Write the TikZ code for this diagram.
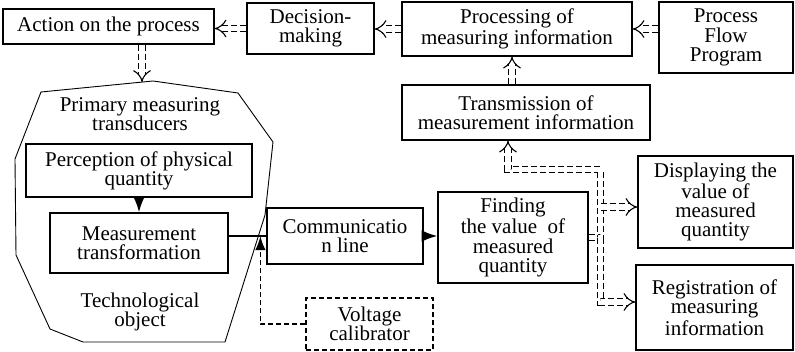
\documentclass[tikz,border=0pt]{standalone}
\usepackage{fontspec}
\setmainfont{Liberation Serif}
\usetikzlibrary{positioning,arrows.meta,calc}

\begin{document}
\begin{tikzpicture}[
    x=0.5pt,y=-0.5pt,
    box/.style={draw,line width=0.6pt,align=center,inner sep=1pt,font=\rmfamily\fontsize{10.5}{9.6}\selectfont},
    lbl/.style={align=center,inner sep=0pt,font=\rmfamily\fontsize{10.5}{9.6}\selectfont},
    arr/.style={-Latex,line width=1.1pt},
    dbl/.style={double,double distance=2.6pt,line width=0.55pt,dash pattern=on 3pt off 1.5pt,-{Implies[scale=1.2]}},
  ]
    \useasboundingbox (0,0) rectangle (795,352);
    % technological object
    \draw[line width=0.45pt] (41,92) -- (153,81) -- (238,93) -- (273,142) -- (265,215) -- (225,342)
      -- (83,342) -- (50,329) -- (16,255) -- (15,159) -- cycle;
    \coordinate (objtop) at (142,82);
    \node[lbl] (primary) at (140,114) {Primary measuring\\transducers};
    \node[lbl] (techobj) at (140,312) {Technological\\object};

    \node[box,minimum width=105.5pt,minimum height=17.5pt] (act) at (108.5,26.5) {Action on the process};
    \node[box,minimum width=63.5pt,minimum height=25.5pt] (decide) at (310.5,28.5) {Decision-\\making};
    \node[box,minimum width=115pt,minimum height=27pt] (procinfo) at (517,29) {Processing of\\measuring information};
    \node[box,minimum width=67pt,minimum height=35.5pt] (flowprog) at (726,37.5) {Process\\Flow\\Program};
    \node[box,minimum width=124pt,minimum height=27.5pt] (transm) at (526,112.5) {Transmission of\\measurement information};
    \node[box,minimum width=113pt,minimum height=26.5pt] (percept) at (139,170.5) {Perception of physical\\quantity};
    \node[box,minimum width=89pt,minimum height=30pt] (meastr) at (139,243) {Measurement\\transformation};
    \node[box,minimum width=78pt,minimum height=28pt] (commline) at (345,236) {Communicatio\\n line};
    \node[box,minimum width=75pt,minimum height=45.5pt] (findval) at (513,237.5) {Finding\\the value\ \ of\\measured\\quantity};
    \node[box,dash pattern=on 2.5pt off 1.5pt,minimum width=63.5pt,minimum height=26pt] (voltcal) at (369.5,324) {Voltage\\calibrator};
    \node[box,minimum width=77.5pt,minimum height=46pt] (display) at (715.5,202) {Displaying the\\value of\\measured\\quantity};
    \node[box,minimum width=78.5pt,minimum height=42.5pt] (register) at (714.5,307.5) {Registration of\\measuring\\information};

    % solid signal path
    \draw[arr] (percept) -- (meastr);
    \draw[line width=1.1pt] (meastr.east |- commline.west) -- (commline.west);
    \draw[arr] (commline.east) -- (commline.east -| findval.west);
    \coordinate (calin) at ($(commline.west)+(-3pt,0)$);
    \draw[-Latex,line width=0.9pt,dash pattern=on 2.5pt off 1.5pt] (voltcal.west) -| (calin);

    % information flows
    \draw[dbl] (decide.west) -- (decide.west -| act.east);
    \draw[dbl] (procinfo.west) -- (procinfo.west -| decide.east);
    \draw[dbl] (flowprog.west |- procinfo.east) -- (procinfo.east);
    \draw[dbl] ([xshift=-2.5pt]procinfo.south |- transm.north) -- ([xshift=-2.5pt]procinfo.south);
    \draw[dbl] (act.south -| objtop) -- (objtop);
    \coordinate (bus) at ($(findval.east)+(6pt,0)$);
    \coordinate (bustop) at ($(bus)+(0,34pt)$);
    \draw[dbl] (findval.east) -| (bustop) -| ([xshift=-9pt]transm.south);
    \draw[dbl] ([yshift=-2.5pt]display.west -| bus) -- ([yshift=-2.5pt]display.west);
    \draw[dbl] (bus) |- ([yshift=2.75pt]register.west);
  \end{tikzpicture}
\end{document}
